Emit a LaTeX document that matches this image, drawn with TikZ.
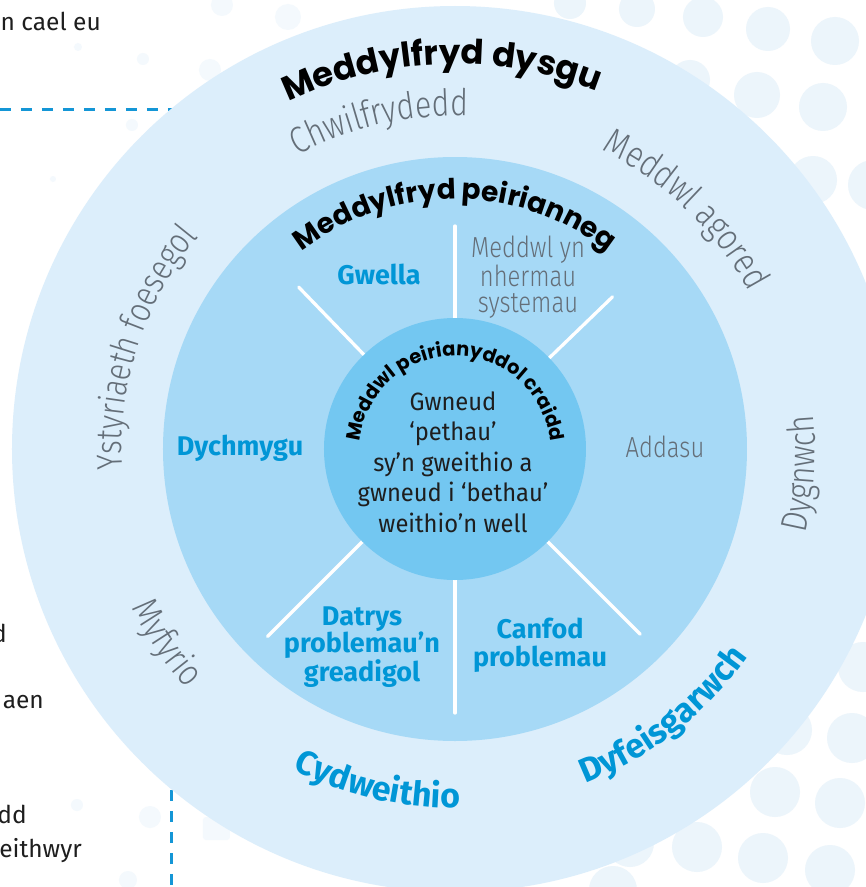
\documentclass[tikz,border=0pt]{standalone}
\usepackage{fontspec}
\setmainfont{Fira Sans}
\newfontfamily\popb{Poppins}
\newfontfamily\thinf{Fira Sans Light}[FakeStretch=0.82]
\newfontfamily\coref{Fira Sans}[FakeStretch=0.95]
\usetikzlibrary{decorations.text,calc}
\definecolor{ringA}{RGB}{220,238,251}
\definecolor{ringB}{RGB}{166,217,246}
\definecolor{ringC}{RGB}{115,199,241}
\definecolor{bluetxt}{RGB}{0,150,214}
\definecolor{graytxt}{RGB}{100,110,120}
\definecolor{dotc}{RGB}{236,245,251}
\definecolor{dotf}{RGB}{244,249,253}
\definecolor{dashc}{RGB}{20,150,214}
\definecolor{darktxt}{RGB}{30,30,30}
\begin{document}
\begin{tikzpicture}[x=1pt,y=1pt,
  dot/.style={fill=dotc},
  fdot/.style={fill=dotf},
  spoke/.style={draw=white,line width=3.3pt,line cap=round},
  dashline/.style={draw=dashc,line width=3pt,dash pattern=on 11pt off 10pt},
  bluebold/.style={text=bluetxt,font=\fontsize{27}{27.5}\selectfont\bfseries,align=center,inner sep=0pt},
  graythin/.style={text=graytxt,font=\thinf\fontsize{29}{26}\selectfont,align=center,inner sep=0pt},
  coretext/.style={text=darktxt,font=\coref\fontsize{25}{30.5}\selectfont,align=center,inner sep=0pt},
  frag/.style={text=darktxt,font=\fontsize{24.5}{30}\selectfont,anchor=base east,inner sep=0pt},
]
\useasboundingbox (-455,-438) rectangle (411,449);
\clip (-455,-438) rectangle (411,449);
\fill[white] (-455,-438) rectangle (411,449);

% background dots
\foreach \x/\y/\r in {115/446/16,182/440/18,248/432/20,313/420/22,380/408/24,
  235/369/20,302/354/23,368/342/24,358/269/24,418/264/25,
  408/-218/25,332/-281/25,397/-289/25,320/-343/25,385/-354/25,
  242/-398/25,308/-409/25,375/-421/25,175/-394/24,158/-441/24}
  \fill[dot] (\x,\y) circle[radius=\r];
\foreach \x/\y/\r in {-233/444/11,-167/432/13,-377/402/4,-312/390/6,-245/379/11,
  -323/324/6,-402/270/3,-305/-368/11,-378/-356/6,-327/-431/9}
  \fill[fdot] (\x,\y) circle[radius=\r];
\fill[fdot,rounded corners=3pt] (-252,-391) rectangle (-225,-368);

% dashed panel borders
\coordinate (dh1) at (-455,339);
\coordinate (dh2) at (-280,339);
\coordinate (dv1) at (-283,-341);
\coordinate (dv2) at (-283,-440);
\draw[dashline] (dh1) -- (dh2);
\draw[dashline] (dv1) -- (dv2);

% rings
\fill[ringA] (0,0) circle[radius=443];
\fill[ringB] (0,0) circle[radius=292];
\draw[spoke] (90:120) -- (90:223);
\draw[spoke] (134:120) -- (134:225);
\draw[spoke] (44:120) -- (44:219);
\draw[spoke] (225:120) -- (225:265);
\draw[spoke] (315:120) -- (315:262);
\draw[spoke] (270:120) -- (270:264);
\fill[ringC] (0,0) circle[radius=131];

% curved titles
\path[decorate,decoration={text along path,text align=center,text color=black,
  text={|\popb\bfseries\fontsize{34}{36}\selectfont|Meddylfryd dysgu}}]
  (132:385) arc[start angle=132,end angle=52,radius=385];
\path[decorate,decoration={text along path,text align=center,text color=black,
  text={|\popb\bfseries\fontsize{28}{30}\selectfont|Meddylfryd peirianneg}}]
  (140:250) arc[start angle=140,end angle=40,radius=250];
\path[decorate,decoration={text along path,text align=center,text color=black,
  text={|\popb\bfseries\fontsize{19.5}{20}\selectfont|Meddwl peirianyddol craidd}}]
  ($(0,-3)+(185:96)$) arc[start angle=185,end angle=-5,radius=96];

% outer ring thin texts
\path[decorate,decoration={text along path,text align=center,text color=graytxt,
  text={|\thinf\fontsize{37}{40}\selectfont|Chwilfrydedd}}]
  (133:333) arc[start angle=133,end angle=73,radius=333];
\path[decorate,decoration={text along path,text align=center,text color=graytxt,
  text={|\thinf\fontsize{37}{40}\selectfont|Meddwl agored}}]
  (86:333) arc[start angle=86,end angle=6,radius=333];
\path[decorate,decoration={text along path,text align=center,text color=graytxt,
  text={|\thinf\fontsize{36}{40}\selectfont|Ystyriaeth foesegol}}]
  (207:333) arc[start angle=207,end angle=117,radius=333];
\path[decorate,decoration={text along path,text align=center,text color=graytxt,
  text={|\thinf\fontsize{37}{40}\selectfont|Dygnwch}}]
  (-40:360) arc[start angle=-40,end angle=32,radius=360];
\path[decorate,decoration={text along path,text align=center,text color=graytxt,
  text={|\thinf\fontsize{37}{40}\selectfont|Myfyrio}}]
  (180:360) arc[start angle=180,end angle=248,radius=360];

% outer ring blue bold texts
\path[decorate,decoration={text along path,text align=center,text color=bluetxt,
  text={|\bfseries\fontsize{34}{36}\selectfont|Cydweithio}}]
  (220:359) arc[start angle=220,end angle=294,radius=359];
\path[decorate,decoration={text along path,text align=center,text color=bluetxt,
  text={|\bfseries\fontsize{34}{36}\selectfont|Dyfeisgarwch}}]
  (-96:359) arc[start angle=-96,end angle=-8,radius=359];

% middle ring labels
\node[bluebold] (gwella) at (-76,175) {Gwella};
\node[graythin] (systemau) at (73,172) {Meddwl yn\\nhermau\\systemau};
\node[bluebold] (dychmygu) at (-215,1) {Dychmygu};
\node[graythin] (addasu) at (210,2) {Addasu};
\node[bluebold] (datrys) at (-93,-198) {Datrys\\problemau’n\\greadigol};
\node[bluebold] (canfod) at (85,-196) {Canfod\\problemau};

% core text
\node[coretext] (core) at (-2,-13) {Gwneud\\‘pethau’\\sy’n gweithio a\\gwneud i ‘bethau’\\weithio’n well};

% fragments of neighbouring panel text
\node[frag] (f1) at (-354,418) {n cael eu};
\node[frag] (f2) at (-448,-193) {d};
\node[frag] (f3) at (-411,-259) {aen};
\node[frag] (f4) at (-428,-374) {dd};
\node[frag] (f5) at (-373,-408) {eithwyr};
\end{tikzpicture}
\end{document}
